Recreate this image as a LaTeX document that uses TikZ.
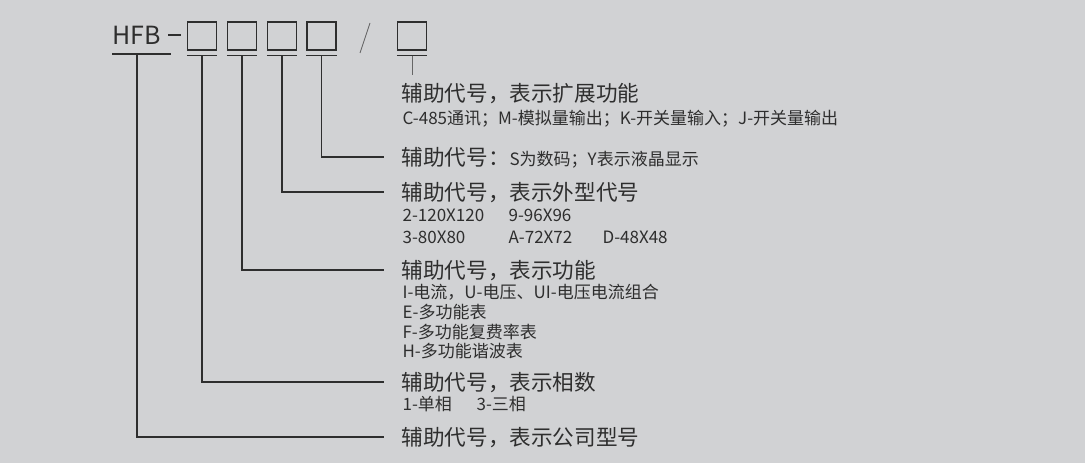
\documentclass[tikz,border=0pt]{standalone}
\usepackage{fontspec}
\setmainfont{Noto Sans CJK SC}
\usetikzlibrary{positioning}
\definecolor{bg}{HTML}{D1D2D4}
\definecolor{ink}{HTML}{2E2E2E}

\begin{document}
\begin{tikzpicture}[x=1pt,y=-1pt,line width=1.2pt,
  box/.style={draw=ink,minimum width=29pt,minimum height=28pt,inner sep=0pt},
  head/.style={anchor=west,inner sep=0pt,text=ink,font=\fontsize{21.6}{21.6}\selectfont,text height=19pt,text depth=2.6pt},
  sub/.style={anchor=west,inner sep=0pt,text=ink,font=\fontsize{17}{17}\selectfont,text height=15pt,text depth=2pt}]
\fill[bg] (0,0) rectangle (1085,463);
\useasboundingbox (0,0) rectangle (1085,463);
\node[anchor=base west,inner sep=0pt,text=ink,font=\fontsize{25}{25}\selectfont] (hfb) at (112,44) {HFB};
\foreach \n/\x in {1/202,2/242,3/282,4/321.5,5/412}{
  \node[box] (b\n) at (\x,36) {};
  \coordinate (u\n) at ([yshift=-5pt]b\n.south);
  \draw[ink] ([yshift=-5pt]b\n.south west) -- ([yshift=-5pt]b\n.south east);
}
\coordinate (h0) at (137,54);
\draw[ink] (112,54) -- (171,54);
\draw[ink,line width=2pt] (168,35) -- (181,35);
\draw[gray!80!black,line width=0.9pt] (360,53) -- (370,23);
\node[head] (t1) at (401,93) {辅助代号，表示扩展功能};
\node[sub] (s1) at (402,118) {C-485通讯；M-模拟量输出；K-开关量输入；J-开关量输出};
\node[head] (t2) at (401,157) {辅助代号：{\fontsize{17}{17}\selectfont S为数码；Y表示液晶显示}};
\node[head] (t3) at (401,192) {辅助代号，表示外型代号};
\node[sub] (s2) at (402,215) {2-120X120};
\node[sub] (s3) at (508,215) {9-96X96};
\node[sub] (s4) at (402,237) {3-80X80};
\node[sub] (s5) at (508,237) {A-72X72};
\node[sub] (s6) at (602,237) {D-48X48};
\node[head] (t4) at (401,270) {辅助代号，表示功能};
\node[sub] (s7) at (402,292) {I-电流，U-电压、UI-电压电流组合};
\node[sub] (s8) at (402,312) {E-多功能表};
\node[sub] (s9) at (402,332) {F-多功能复费率表};
\node[sub] (s10) at (402,351) {H-多功能谐波表};
\node[head] (t5) at (401,382) {辅助代号，表示相数};
\node[sub] (s11) at (402,404) {1-单相};
\node[sub] (s12) at (476,404) {3-三相};
\node[head] (t6) at (401,437) {辅助代号，表示公司型号};
\draw[gray!80!black,line width=0.9pt] (u5) -- ([yshift=6.5pt]u5 |- t1.north);
\draw[ink] (u4) |- ([xshift=-17pt]t2.west) (u3) |- ([xshift=-17pt]t3.west)
  (u2) |- ([xshift=-17pt]t4.west) (u1) |- ([xshift=-17pt]t5.west)
  (h0) |- ([xshift=-17pt]t6.west);
\end{tikzpicture}
\end{document}
